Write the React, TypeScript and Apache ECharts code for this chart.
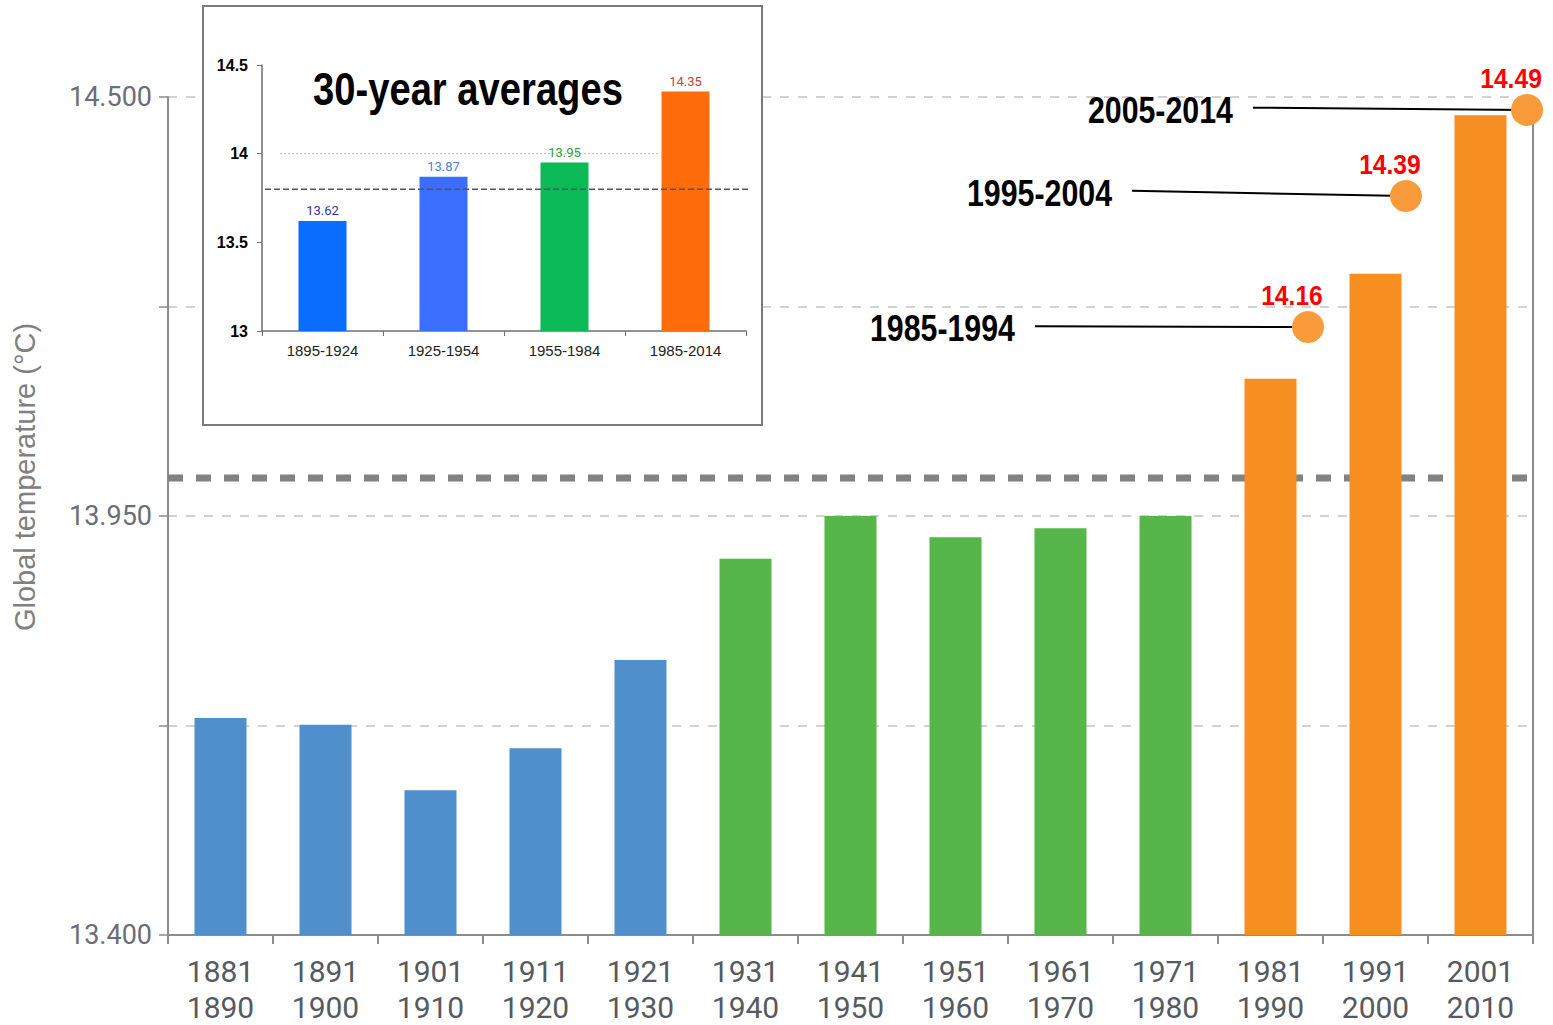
import React, { useEffect, useRef } from "react";
import * as echarts from "echarts";

// ---------- main chart data ----------
const decades = [
  "1881\n1890", "1891\n1900", "1901\n1910", "1911\n1920", "1921\n1930",
  "1931\n1940", "1941\n1950", "1951\n1960", "1961\n1970", "1971\n1980",
  "1981\n1990", "1991\n2000", "2001\n2010",
];
const decadeTemps = [
  13.685, 13.676, 13.59, 13.645, 13.761, 13.894, 13.95, 13.922, 13.934, 13.95,
  14.13, 14.268, 14.476,
];
const decadeGroups = [0, 0, 0, 0, 0, 1, 1, 1, 1, 1, 2, 2, 2];
const groupColors = ["#4F8FCB", "#56B64A", "#F78E21"];
const yTickLabels = ["13.400", "", "13.950", "", "14.500"];
const referenceLevel = 14.0;

// ten-year period callouts
const periods = ["1985-1994", "1995-2004", "2005-2014"];
const periodValueLabels = ["14.16", "14.39", "14.49"];
const periodDotX = [10.357, 11.29, 12.443];
const periodDotY = [14.198, 14.37, 14.483];
const leaderStartX = [7.757, 8.681, 9.833];
const leaderStartY = [14.199, 14.377, 14.486];

// ---------- inset data ----------
const insetPeriods = ["1895-1924", "1925-1954", "1955-1984", "1985-2014"];
const insetTemps = [13.62, 13.87, 13.95, 14.35];
const insetColors = ["#0A6DFE", "#3B6EFC", "#0CB957", "#FE6C0B"];
const insetLabelColors = ["#34349E", "#5581D2", "#2F9E3B", "#D23C3C"];
const insetAvgLine = 13.8;
const insetAvgSpan = [-0.475, 3.632];
const insetRefLine = 14.0;
const insetRefSpan = [-0.35, 2.79];

const SANS = 'Roboto, "Liberation Sans", sans-serif';
const ARIAL = '"Liberation Sans", Arial, sans-serif';

export default function App() {
  const ref = useRef<HTMLDivElement>(null);

  useEffect(() => {
    if (!ref.current) return;
    const chart = echarts.init(ref.current, undefined, { renderer: "svg" });

    const leaderSeries = periods.map((p, i) => ({
      name: p,
      type: "line",
      xAxisIndex: 1,
      yAxisIndex: 0,
      z: 8,
      symbol: "none",
      lineStyle: { color: "#000", width: 2 },
      data: [
        [leaderStartX[i], leaderStartY[i]],
        [periodDotX[i], periodDotY[i]],
      ],
    }));

    chart.setOption({
      animation: false,
      backgroundColor: "#fff",
      grid: [
        { left: 168, top: 97, width: 1365, height: 838, outerBoundsMode: "none" },
        { left: 262, top: 65, width: 484, height: 266, outerBoundsMode: "none" },
      ],
      xAxis: [
        {
          type: "category",
          gridIndex: 0,
          data: decades,
          axisLine: { onZero: false, lineStyle: { color: "#8c8c8c", width: 2 } },
          axisTick: { show: true, length: 9, lineStyle: { color: "#8c8c8c", width: 2 } },
          axisLabel: {
            fontSize: 30,
            lineHeight: 36,
            color: "#555a60",
            fontFamily: SANS,
            margin: 18,
            interval: 0,
          },
        },
        { type: "value", gridIndex: 0, min: -0.5, max: 12.5, show: false, axisLine: { onZero: false } },
        {
          type: "category",
          gridIndex: 1,
          data: insetPeriods,
          z: 60,
          axisLine: { onZero: false, lineStyle: { color: "#6f6f6f", width: 1.5 } },
          axisTick: { show: true, length: 5, lineStyle: { color: "#6f6f6f" } },
          axisLabel: { fontSize: 15, color: "#222", fontFamily: ARIAL, margin: 12 },
        },
        { type: "value", gridIndex: 1, min: -0.5, max: 3.5, show: false, axisLine: { onZero: false } },
      ],
      yAxis: [
        { type: "value", gridIndex: 0, min: 13.4, max: 14.5, show: false, axisLine: { onZero: false } },
        {
          type: "value",
          gridIndex: 0,
          min: 0,
          max: 4,
          interval: 1,
          position: "left",
          axisLine: { show: true, onZero: false, lineStyle: { color: "#8c8c8c", width: 2 } },
          axisTick: { show: true, length: 9, lineStyle: { color: "#8c8c8c", width: 1.5 } },
          axisLabel: {
            formatter: (v: number) => yTickLabels[Math.round(v)] ?? "",
            fontSize: 27,
            color: "#6a6e76",
            fontFamily: SANS,
            margin: 16,
          },
          splitLine: { show: true, lineStyle: { color: "#c4c4c4", width: 1.5, type: [9, 9] } },
        },
        {
          type: "value",
          gridIndex: 0,
          min: 0,
          max: 4,
          interval: 1,
          position: "right",
          axisLine: { show: true, onZero: false, lineStyle: { color: "#8c8c8c", width: 2 } },
          axisTick: { show: false },
          axisLabel: { show: false },
          splitLine: { show: false },
        },
        {
          type: "value",
          gridIndex: 1,
          min: 13,
          max: 14.5,
          interval: 0.5,
          z: 60,
          axisLine: { show: true, onZero: false, lineStyle: { color: "#6f6f6f", width: 1.5 } },
          axisTick: { show: true, length: 5, lineStyle: { color: "#6f6f6f" } },
          axisLabel: {
            fontSize: 16,
            fontWeight: "bold",
            color: "#000",
            fontFamily: ARIAL,
            margin: 14,
          },
          splitLine: { show: false },
        },
      ],
      graphic: [
        {
          id: "title",
          type: "text",
          x: 152,
          y: -49,
          z: 1,
          style: {
            text: "Global temperature change (°C)",
            font: 'bold 85px "Liberation Sans", Arial, sans-serif',
            fill: "#000",
            verticalAlign: "middle",
          },
        },
        {
          id: "yname",
          type: "text",
          x: 25,
          y: 477,
          rotation: Math.PI / 2,
          style: {
            text: "Global temperature (°C)",
            font: '29px "Liberation Sans", Arial, sans-serif',
            fill: "#808080",
            align: "center",
            verticalAlign: "middle",
          },
        },
        {
          id: "insetFrame",
          type: "rect",
          z: 50,
          shape: { x: 203, y: 6, width: 559, height: 419 },
          style: { fill: "#fff", stroke: "#7a7a7a", lineWidth: 2 },
        },
        {
          id: "insetTitle",
          type: "text",
          z: 62,
          x: 313,
          y: 89,
          scaleX: 0.83,
          style: {
            text: "30-year averages",
            font: 'bold 46px "Liberation Sans", Arial, sans-serif',
            fill: "#000",
            align: "left",
            verticalAlign: "middle",
          },
        },
      ],
      series: [
        {
          type: "line",
          xAxisIndex: 1,
          yAxisIndex: 0,
          z: 1,
          symbol: "none",
          lineStyle: { color: "#828282", width: 7, type: [15, 13] },
          data: [
            [-0.5, referenceLevel],
            [12.5, referenceLevel],
          ],
        },
        {
          type: "bar",
          xAxisIndex: 0,
          yAxisIndex: 0,
          z: 3,
          barWidth: 52,
          data: decadeTemps.map((v, i) => ({
            value: v,
            itemStyle: { color: groupColors[decadeGroups[i]] },
          })),
        },
        ...leaderSeries,
        {
          type: "scatter",
          xAxisIndex: 1,
          yAxisIndex: 0,
          z: 10,
          symbolSize: 32,
          itemStyle: { color: "#F99B3A", opacity: 1 },
          data: periodDotX.map((x, i) => [x, periodDotY[i]]),
        },
        {
          type: "line",
          xAxisIndex: 3,
          yAxisIndex: 3,
          z: 60.5,
          clip: false,
          symbol: "none",
          lineStyle: { color: "#b4b4b4", width: 1, type: [2, 2] },
          data: [
            [insetRefSpan[0], insetRefLine],
            [insetRefSpan[1], insetRefLine],
          ],
        },
        {
          type: "bar",
          xAxisIndex: 2,
          yAxisIndex: 3,
          z: 61,
          barWidth: 48,
          data: insetTemps.map((v, i) => ({
            value: v,
            itemStyle: { color: insetColors[i] },
            label: { color: insetLabelColors[i] },
          })),
          label: {
            show: true,
            position: "top",
            distance: 4,
            fontSize: 13,
            fontFamily: SANS,
          },
        },
        {
          type: "line",
          xAxisIndex: 3,
          yAxisIndex: 3,
          z: 63,
          clip: false,
          symbol: "none",
          lineStyle: { color: "#555", width: 1.5, type: [6, 3] },
          data: [
            [insetAvgSpan[0], insetAvgLine],
            [insetAvgSpan[1], insetAvgLine],
          ],
        },
      ],
    });

    // Callout texts positioned through the chart's own scales
    const extra: any[] = [];
    periods.forEach((p, i) => {
      const [sx, sy] = chart.convertToPixel(
        { xAxisIndex: 1, yAxisIndex: 0 },
        [leaderStartX[i], leaderStartY[i]]
      ) as number[];
      extra.push({
        id: "period" + i,
        type: "text",
        z: 12,
        x: sx - 20,
        y: sy + 2,
        scaleX: 0.82,
        style: {
          text: p,
          font: 'bold 37px "Liberation Sans", Arial, sans-serif',
          fill: "#000",
          align: "right",
          verticalAlign: "middle",
        },
      });
      const [dx, dy] = chart.convertToPixel(
        { xAxisIndex: 1, yAxisIndex: 0 },
        [periodDotX[i], periodDotY[i]]
      ) as number[];
      extra.push({
        id: "value" + i,
        type: "text",
        z: 12,
        x: dx - 16,
        y: dy - 32,
        scaleX: 0.88,
        style: {
          text: periodValueLabels[i],
          font: 'bold 28px "Liberation Sans", Arial, sans-serif',
          fill: "#FF0000",
          align: "center",
          verticalAlign: "middle",
        },
      });
    });
    chart.setOption({ graphic: extra });

    return () => chart.dispose();
  }, []);

  return (
    <div
      ref={ref}
      style={{ position: "fixed", left: 0, top: 0, width: 1553, height: 1025 }}
    />
  );
}
